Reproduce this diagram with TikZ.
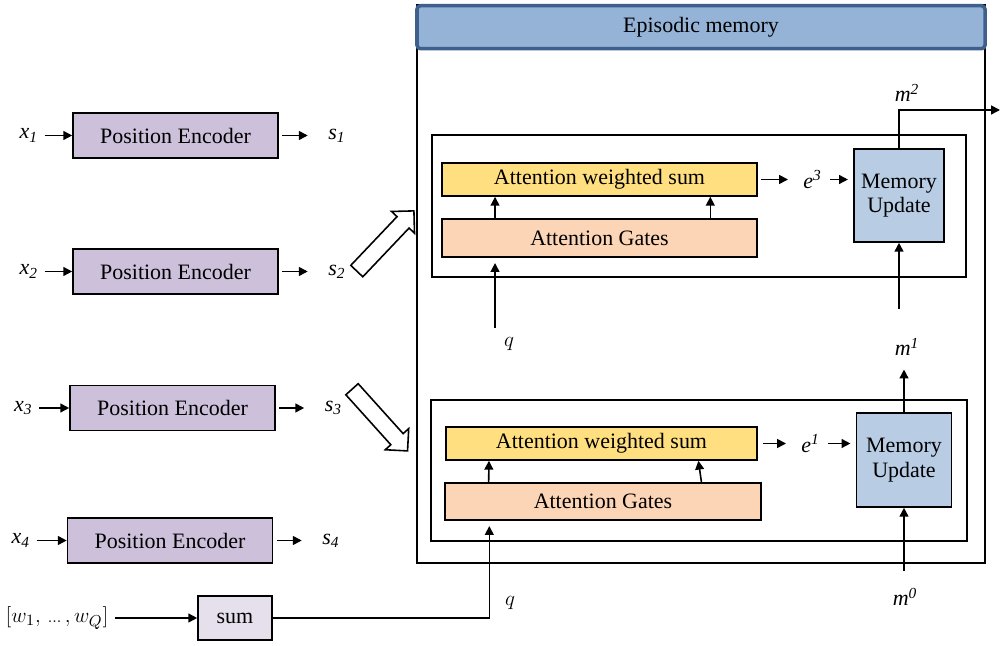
\documentclass[tikz,border=0pt]{standalone}
\usepackage{fontspec}
\setmainfont{Liberation Serif}
\usepackage{tikz}
\usetikzlibrary{shapes, arrows.meta, positioning, calc}
\usepackage{xcolor}

\definecolor{encfill}{HTML}{CCC0DA}
\definecolor{sumfill}{HTML}{E5E0EC}
\definecolor{titlefill}{HTML}{95B3D7}
\definecolor{titleline}{HTML}{3F5F8C}
\definecolor{updatefill}{HTML}{B8CCE4}
\definecolor{awsfill}{HTML}{FFDF7F}
\definecolor{gatefill}{HTML}{FBD5B5}

\tikzset{
    encbox/.style={draw, line width=0.9pt, fill=encfill, minimum width=4.1cm, minimum height=0.9cm},
    frame/.style={draw, line width=1.2pt, inner sep=0pt},
    awsbox/.style={draw, line width=0.9pt, fill=awsfill, minimum height=0.66cm},
    gatebox/.style={draw, line width=0.9pt, fill=gatefill},
    updatebox/.style={draw, line width=0.9pt, fill=updatefill, align=center},
    hollow/.style={single arrow, draw, line width=0.9pt, fill=white, inner sep=0.15cm,
        minimum height=1.66cm, single arrow head extend=0.15cm}
}

\begin{document}
\begin{tikzpicture}[>={Triangle[length=5pt,width=5pt]}, line width=0.9pt, font=\fontsize{12.5}{14}\selectfont]
        \useasboundingbox (0,0) rectangle (20,12.9);

        % input sentences
        \node[encbox] (enc1) at (3.51,10.19) {Position Encoder};
        \node[encbox] (enc2) at (3.51,7.47) {Position Encoder};
        \node[encbox] (enc3) at (3.45,4.74) {Position Encoder};
        \node[encbox] (enc4) at (3.40,2.09) {Position Encoder};
        \node[left=0.55cm of enc1] (x1) {\textit{x\textsubscript{1}}};
        \node[left=0.55cm of enc2] (x2) {\textit{x\textsubscript{2}}};
        \node[left=0.6cm of enc3] (x3) {\textit{x\textsubscript{3}}};
        \node[left=0.6cm of enc4] (x4) {\textit{x\textsubscript{4}}};
        \node[right=0.86cm of enc1] (s1) {\textit{s\textsubscript{1}}};
        \node[right=0.86cm of enc2] (s2) {\textit{s\textsubscript{2}}};
        \node[right=0.85cm of enc3] (s3) {\textit{s\textsubscript{3}}};
        \node[right=0.85cm of enc4] (s4) {\textit{s\textsubscript{4}}};
        \draw[->] (x1) -- (enc1);
        \draw[->] (x2) -- (enc2);
        \draw[->] (x3) -- (enc3);
        \draw[->] (x4) -- (enc4);
        \draw[->, shorten <=2pt, shorten >=8pt] (enc1) -- (s1);
        \draw[->, shorten <=2pt, shorten >=8pt] (enc2) -- (s2);
        \draw[->, shorten <=2pt, shorten >=8pt] (enc3) -- (s3);
        \draw[->, shorten <=2pt, shorten >=8pt] (enc4) -- (s4);

        % question
        \node[draw, fill=sumfill, minimum width=1.48cm, minimum height=0.88cm] (sum) at (4.7,0.54) {sum};
        \node[anchor=east] (words) at (2.3,0.54) {$[w_1,\,{\scriptstyle\ldots}\,,w_Q]$};
        \draw[->] (words) -- (sum);

        % episodic memory
        \node[frame, minimum width=11.36cm, minimum height=11.16cm] (memory) at (14.02,7.22) {};
        \node[draw=titleline, line width=2pt, rounded corners=2pt, fill=titlefill, minimum width=11.36cm,
            minimum height=0.86cm, anchor=north] (title) at (memory.north) {Episodic memory};
        \node[hollow, rotate=46.5] (toHop2) at (7.65,8.02) {};
        \node[hollow, rotate=-48] (toHop1) at (7.54,4.56) {};

        % second pass
        \node[frame, minimum width=10.68cm, minimum height=2.84cm] (hop2) at (13.98,8.78) {};
        \node[awsbox, minimum width=6.3cm] (aws2) at (11.99,9.31) {Attention weighted sum};
        \node[gatebox, minimum width=6.3cm, minimum height=0.76cm] (gates2) at (11.99,8.14) {Attention Gates};
        \node[updatebox, minimum width=1.8cm, minimum height=1.86cm] (update2) at (17.98,8.99) {Memory\\Update};
        \node[right=0.78cm of aws2] (e3) {\textit{e\textsuperscript{3}}};
        \draw[->, shorten <=2pt, shorten >=5pt] (aws2) -- (e3);
        \draw[->, shorten <=1pt, shorten >=3pt] (e3) -- (e3 -| update2.west);
        \draw[->] ($(gates2.north west)!0.17!(gates2.north east)$) -- ($(aws2.south west)!0.17!(aws2.south east)$);
        \draw[->] ($(gates2.north west)!0.85!(gates2.north east)$) -- ($(aws2.south west)!0.85!(aws2.south east)$);
        \coordinate (qin2) at ($(gates2.south west)!0.17!(gates2.south east) + (0,-1.4)$);
        \node[below right=0.05cm and 0.05cm of qin2] (q2) {$q$};
        \draw[->, shorten >=3pt] (qin2) -- (qin2 |- gates2.south);
        \coordinate (out) at (20,10.7);
        \node (m2) at (18.14,11.04) {\textit{m\textsuperscript{2}}};
        \draw[->] (update2.north) |- (out);

        % first pass
        \node[frame, minimum width=10.72cm, minimum height=2.82cm] (hop1) at (13.98,3.49) {};
        \node[awsbox, minimum width=6.22cm] (aws1) at (12.03,4.03) {Attention weighted sum};
        \node[gatebox, minimum width=6.32cm, minimum height=0.74cm] (gates1) at (12.06,2.87) {Attention Gates};
        \node[updatebox, minimum width=1.9cm, minimum height=1.88cm] (update1) at (18.08,3.70) {Memory\\Update};
        \node[right=0.74cm of aws1] (e1) {\textit{e\textsuperscript{1}}};
        \draw[->, shorten <=3pt, shorten >=5pt] (aws1) -- (e1);
        \draw[->, shorten <=1pt, shorten >=3pt] (e1) -- (e1 -| update1.west);
        \draw[->] ($(gates1.north west)!0.14!(gates1.north east)$) -- ($(aws1.south west)!0.14!(aws1.south east)$);
        \draw[->] ($(gates1.north west)!0.81!(gates1.north east)$) -- ($(aws1.south west)!0.81!(aws1.south east)$);
        \draw[->, shorten >=3pt] (sum) -| ($(gates1.south west)!0.142!(gates1.south east)$);
        \node (q1) at (10.2,0.84) {$q$};

        % memory states
        \node (m1) at (18.14,5.96) {\textit{m\textsuperscript{1}}};
        \node (m0) at (18.1,0.96) {\textit{m\textsuperscript{0}}};
        \draw[->, shorten >=4pt] (update1.north) -- (update1.north |- m1.south);
        \draw[->] ($(update2.south |- m1.north) + (0,0.45)$) -- (update2.south);
        \draw[->] ($(update1.south |- m0.north) + (0,0.2)$) -- (update1.south);
    \end{tikzpicture}
\end{document}
